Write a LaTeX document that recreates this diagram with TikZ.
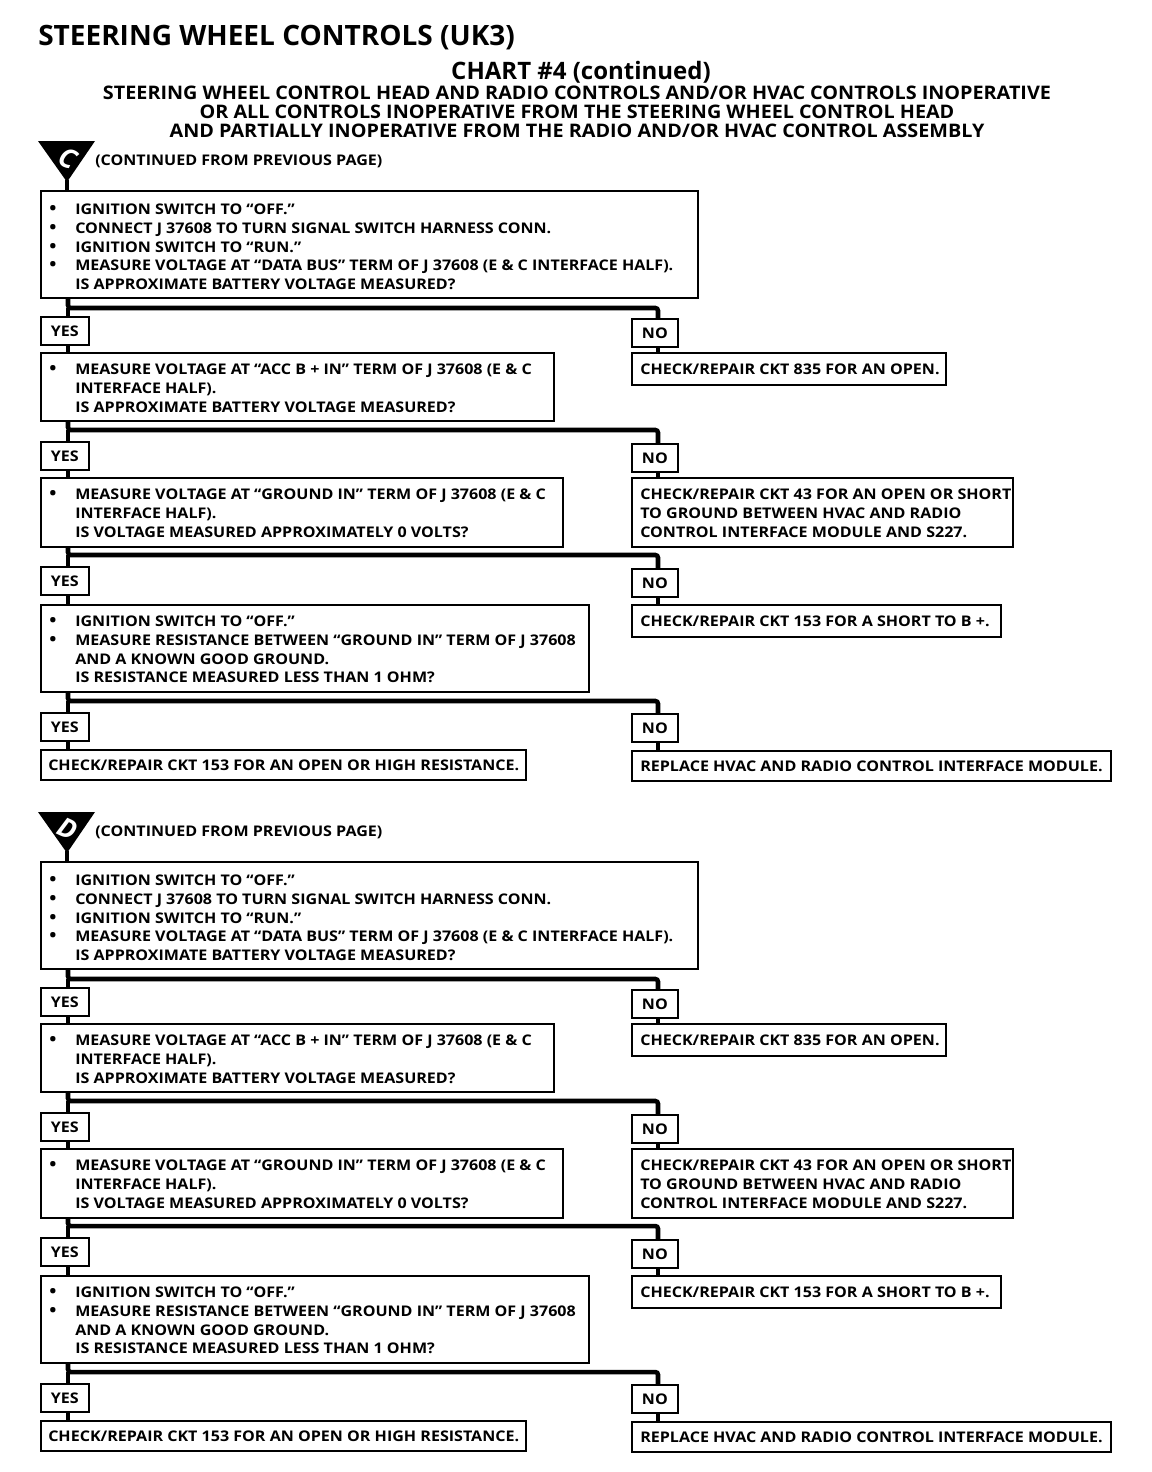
\documentclass[tikz,border=0pt]{standalone}
\usepackage{fontspec}
\setmainfont{Open Sans}
\newfontfamily\boxfam{Open Sans}[FakeStretch=1.095]
\newfontfamily\subfam{Open Sans}[FakeStretch=1.06]
\usetikzlibrary{calc}
\newcommand\bul{\llap{{\fontsize{13}{13}\selectfont\textbullet}\hspace{14pt}}}
\def\off{0}
\newcommand\bx[5]{\node[box, anchor=north west, minimum width={(#4-#2)*0.75pt}, minimum height={(#5-#3)*0.75pt}] (#1) at (#2,{#3+\off}) {};}
\newcommand\bxt[6]{\node[box, anchor=north west, minimum width={(#4-#2)*0.75pt}, minimum height={(#5-#3)*0.75pt}, font=\boxfont] (#1) at (#2,{#3+\off}) {#6};}
\newcommand\tx[4]{\node[txt, anchor=north west] (#1) at (#2,{#3-5.3+\off}) {#4};}
\newcommand\boxfont{\boxfam\bfseries\fontsize{11}{14.06}\selectfont}
\newcommand\chartpart[2]{%
  % start symbol
  \fill (38,{141+\off}) -- (95,{141+\off}) -- (67,{182+\off}) -- cycle;
  \coordinate (#1tri) at (67,{180+\off});
  \node[text=white, font=\bfseries\itshape\fontsize{20}{20}\selectfont, rotate=-25] (#1let) at (68,{158+\off}) {#2};
  \tx{#1cont}{95}{160}{(CONTINUED FROM PREVIOUS PAGE)}
  % boxes
  \bx{#1b1}{40}{190}{697}{297}
  \tx{#1t1}{75}{209}{\bul IGNITION SWITCH TO “OFF.”\\ \bul CONNECT J 37608 TO TURN SIGNAL SWITCH HARNESS CONN.\\ \bul IGNITION SWITCH TO “RUN.”\\ \bul MEASURE VOLTAGE AT “DATA BUS” TERM OF J 37608 (E \& C INTERFACE HALF).\\ IS APPROXIMATE BATTERY VOLTAGE MEASURED?}
  \bxt{#1y1}{40}{316}{88}{344}{YES}
  \bxt{#1n1}{631}{318}{677}{346}{NO}
  \bx{#1r1}{631}{352}{945}{384}
  \tx{#1s1}{640}{369}{CHECK/REPAIR CKT 835 FOR AN OPEN.}
  \bx{#1b2}{40}{352}{553}{420}
  \tx{#1t2}{75}{369}{\bul MEASURE VOLTAGE AT “ACC B + IN” TERM OF J 37608 (E \& C\\ INTERFACE HALF).\\ IS APPROXIMATE BATTERY VOLTAGE MEASURED?}
  \bxt{#1y2}{40}{441}{88}{469}{YES}
  \bxt{#1n2}{631}{443}{677}{471}{NO}
  \bx{#1b3}{40}{477}{562}{546}
  \tx{#1t3}{75}{494}{\bul MEASURE VOLTAGE AT “GROUND IN” TERM OF J 37608 (E \& C\\ INTERFACE HALF).\\ IS VOLTAGE MEASURED APPROXIMATELY 0 VOLTS?}
  \bx{#1r3}{631}{477}{1012}{546}
  \tx{#1s3}{640}{494}{CHECK/REPAIR CKT 43 FOR AN OPEN OR SHORT\\ TO GROUND BETWEEN HVAC AND RADIO\\ CONTROL INTERFACE MODULE AND S227.}
  \bxt{#1y3}{40}{566}{88}{594}{YES}
  \bxt{#1n3}{631}{568}{677}{596}{NO}
  \bx{#1b4}{40}{604}{588}{691}
  \tx{#1t4}{75}{621}{\bul IGNITION SWITCH TO “OFF.”\\ \bul MEASURE RESISTANCE BETWEEN “GROUND IN” TERM OF J 37608\\ AND A KNOWN GOOD GROUND.\\ IS RESISTANCE MEASURED LESS THAN 1 OHM?}
  \bx{#1r4}{631}{604}{1000}{636}
  \tx{#1s4}{640}{621}{CHECK/REPAIR CKT 153 FOR A SHORT TO B +.}
  \bxt{#1y4}{40}{712}{88}{740}{YES}
  \bxt{#1n4}{631}{713}{677}{741}{NO}
  \bx{#1ry}{40}{749}{525}{779}
  \tx{#1sy}{48}{765}{CHECK/REPAIR CKT 153 FOR AN OPEN OR HIGH RESISTANCE.}
  \bx{#1rn}{631}{750}{1110}{780}
  \tx{#1sn}{640}{766}{REPLACE HVAC AND RADIO CONTROL INTERFACE MODULE.}
  % connectors
  \draw[bar] (#1tri) -- (#1b1.north -| #1tri);
  \coordinate (#1j1) at (68,{308+\off}); \coordinate (#1k1) at (658,{308+\off});
  \coordinate (#1j2) at (68,{430+\off}); \coordinate (#1k2) at (658,{430+\off});
  \coordinate (#1j3) at (68,{555+\off}); \coordinate (#1k3) at (658,{555+\off});
  \coordinate (#1j4) at (68,{701+\off}); \coordinate (#1k4) at (658,{701+\off});
  \draw[bar] (#1b1.south -| #1j1) -- (#1j1) -- (#1k1) -- (#1n1.north -| #1k1);
  \draw[bar] (#1j1) -- (#1y1.north -| #1j1);
  \draw[bar] (#1y1.south -| #1j1) -- (#1b2.north -| #1j1);
  \draw[bar] (#1n1.south -| #1k1) -- (#1r1.north -| #1k1);
  \draw[bar] (#1b2.south -| #1j2) -- (#1j2) -- (#1k2) -- (#1n2.north -| #1k2);
  \draw[bar] (#1j2) -- (#1y2.north -| #1j2);
  \draw[bar] (#1y2.south -| #1j2) -- (#1b3.north -| #1j2);
  \draw[bar] (#1n2.south -| #1k2) -- (#1r3.north -| #1k2);
  \draw[bar] (#1b3.south -| #1j3) -- (#1j3) -- (#1k3) -- (#1n3.north -| #1k3);
  \draw[bar] (#1j3) -- (#1y3.north -| #1j3);
  \draw[bar] (#1y3.south -| #1j3) -- (#1b4.north -| #1j3);
  \draw[bar] (#1n3.south -| #1k3) -- (#1r4.north -| #1k3);
  \draw[bar] (#1b4.south -| #1j4) -- (#1j4) -- (#1k4) -- (#1n4.north -| #1k4);
  \draw[bar] (#1j4) -- (#1y4.north -| #1j4);
  \draw[bar] (#1y4.south -| #1j4) -- (#1ry.north -| #1j4);
  \draw[bar] (#1n4.south -| #1k4) -- (#1rn.north -| #1k4);
}
\begin{document}
\begin{tikzpicture}[x=0.75pt,y=-0.75pt,
  box/.style={draw, line width=1.3pt, inner sep=0pt},
  txt/.style={inner sep=0pt, align=left, font=\boxfont},
  bar/.style={line width=3.4pt, rounded corners=2pt},
  head/.style={inner sep=0pt, font=\bfseries},
  subh/.style={inner sep=0pt, anchor=base, font=\subfam\bfseries\fontsize{14}{15}\selectfont}]
\useasboundingbox (0,0) rectangle (1152,1472);
\fill[white] (0,0) rectangle (1152,1472);
\node[head, anchor=base west, font=\bfseries\fontsize{21}{24}\selectfont] (title) at (38,45) {STEERING WHEEL CONTROLS (UK3)};
\node[head, anchor=base, font=\bfseries\fontsize{18}{20}\selectfont] (chart) at (581,79) {CHART \#4 (continued)};
\node[subh] (sub1) at (577,99) {STEERING WHEEL CONTROL HEAD AND RADIO CONTROLS AND/OR HVAC CONTROLS INOPERATIVE};
\node[subh] (sub2) at (577,118) {OR ALL CONTROLS INOPERATIVE FROM THE STEERING WHEEL CONTROL HEAD};
\node[subh] (sub3) at (577,137) {AND PARTIALLY INOPERATIVE FROM THE RADIO AND/OR HVAC CONTROL ASSEMBLY};
\def\off{0}
\chartpart{c}{C}
\def\off{671}
\chartpart{d}{D}
\end{tikzpicture}
\end{document}
